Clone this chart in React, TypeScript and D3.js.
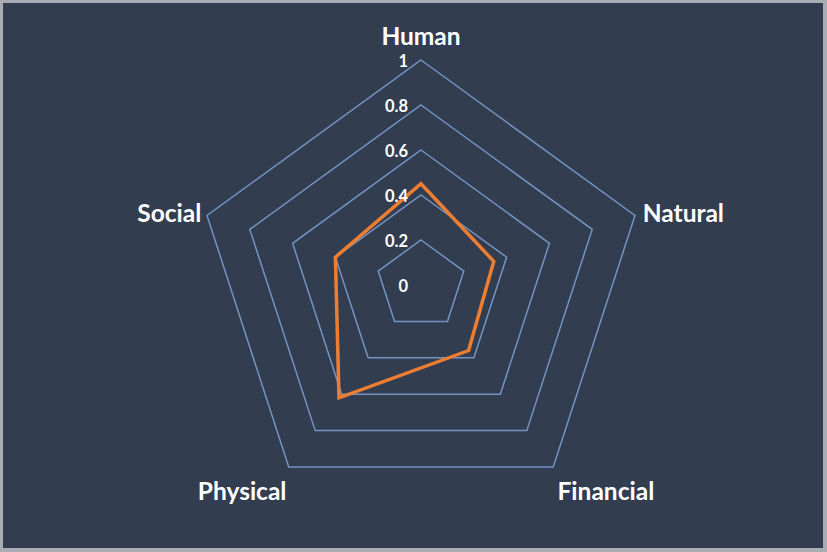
import React from 'react'
import * as d3 from 'd3'

const axes = ['Human', 'Natural', 'Financial', 'Physical', 'Social']
const values = [0.45, 0.34, 0.36, 0.62, 0.4]
const ticks = [0, 0.2, 0.4, 0.6, 0.8, 1]
const tickLabels = ['0', '0.2', '0.4', '0.6', '0.8', '1']

const width = 827
const height = 552
const cx = 421
const cy = 285
const radius = 225

export default function App () {
  const r = d3.scaleLinear().domain([0, 1]).range([0, radius])
  const angle = d3.scaleLinear().domain([0, axes.length]).range([0, 2 * Math.PI])

  const ring = d3.lineRadial<number>()
    .angle((_, i) => angle(i))
    .radius(d => r(d))
    .curve(d3.curveLinearClosed)

  const rings = ticks.filter(t => t > 0).map(t => ring(axes.map(() => t)))
  const series = ring(values)

  // label anchors, roughly where Excel put them
  const labelPos = axes.map((name, i) => {
    const a = angle(i)
    const rr = r(1) + 26
    const x = cx + rr * Math.sin(a)
    const y = cy - rr * Math.cos(a)
    return { name, x, y }
  })
  const nudges: Record<string, [number, number, string]> = {
    Human: [0, 11, 'middle'],
    Natural: [-17, 15, 'start'],
    Financial: [-11, 12, 'start'],
    Physical: [13, 12, 'end'],
    Social: [19, 15, 'end'],
  }

  return (
    <div style={{ position: 'fixed', left: 0, top: 0 }}>
      <svg width={width} height={height} style={{ display: 'block' }}>
        <rect x={0} y={0} width={width} height={height} fill="#a9adb3" />
        <rect x={3} y={3} width={width - 7} height={height - 7} fill="#333d50" />
        <g transform={`translate(${cx}, ${cy})`}>
          {rings.map((d, i) => (
            <path key={i} d={d || ''} fill="none" stroke="#7394c2" strokeWidth={1.5} />
          ))}
          <path d={series || ''} fill="none" stroke="#ed7d31" strokeWidth={3.5} strokeLinejoin="miter" />
          {ticks.map((t, i) => (
            <text key={t} x={-13} y={-r(t) + 7} textAnchor="end"
              fontFamily="Lato, 'Open Sans', sans-serif" fontWeight="bold" fontSize={16.5} fill="#ffffff">
              {tickLabels[i]}
            </text>
          ))}
        </g>
        {labelPos.map(({ name, x, y }) => {
          const [dx, dy, anchor] = nudges[name]
          return (
            <text key={name} x={x + dx} y={y + dy} textAnchor={anchor}
              fontFamily="Lato, 'Open Sans', sans-serif" fontWeight="bold" fontSize={24.5} fill="#ffffff">
              {name}
            </text>
          )
        })}
      </svg>
    </div>
  )
}
